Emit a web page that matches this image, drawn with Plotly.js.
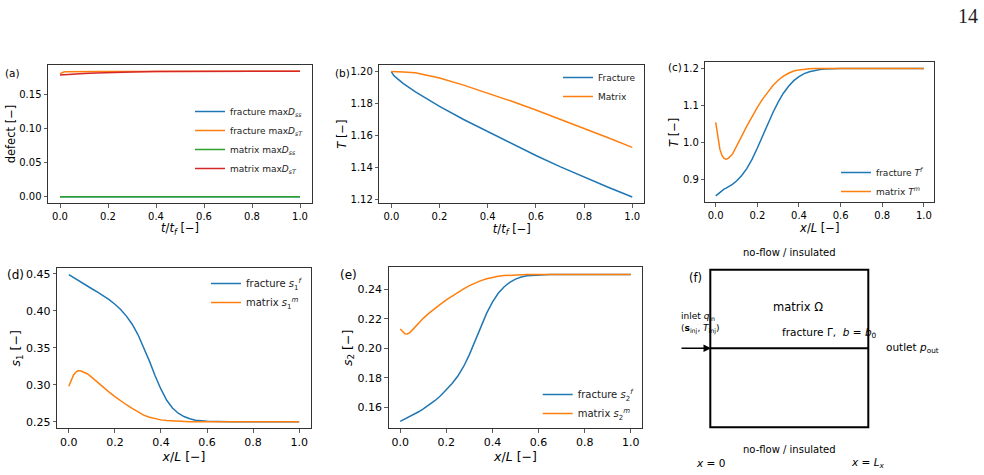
<!DOCTYPE html>
<html>
<head>
<meta charset="utf-8">
<script src="https://cdn.plot.ly/plotly-3.0.1.min.js"></script>
<style>html,body{margin:0;padding:0;background:#fff;}#plot{width:984px;height:475px;}</style>
</head>
<body>
<div id="plot"></div>
<script>
// ---------- data ----------
const tGrid = [0, 0.01, 0.02, 0.05, 0.1, 0.15, 0.2, 0.3, 0.4, 0.5, 0.6, 0.7, 0.8, 0.9, 1.0];
// (a) defects
const fracDss = [0, 0, 0, 0, 0, 0, 0, 0, 0, 0, 0, 0, 0, 0, 0];
const fracDsT = [0.1805, 0.1828, 0.1836, 0.1839, 0.1840, 0.1841, 0.1841, 0.1842, 0.1843, 0.1843, 0.1844, 0.1844, 0.1844, 0.1845, 0.1845];
const matDss  = [0, 0, 0, 0, 0, 0, 0, 0, 0, 0, 0, 0, 0, 0, 0];
const matDsT  = [0.1790, 0.1793, 0.1796, 0.1803, 0.1812, 0.1820, 0.1827, 0.1835, 0.1840, 0.1842, 0.1843, 0.1844, 0.1844, 0.1845, 0.1845];
// (b) mean temperature vs time
const TfracT = [1.2, 1.1975, 1.1962, 1.1925, 1.1873, 1.1826, 1.1782, 1.1700, 1.1624, 1.1548, 1.1475, 1.1405, 1.1339, 1.1276, 1.1215];
const TmatT  = [1.2, 1.2, 1.2, 1.1998, 1.1992, 1.1978, 1.196, 1.1915, 1.1866, 1.1814, 1.176, 1.1703, 1.1645, 1.1586, 1.1526];
// (c)-(e) profiles along x/L
const xGrid = [0, 0.01, 0.02, 0.03, 0.04, 0.05, 0.06, 0.08, 0.1, 0.125, 0.15, 0.175, 0.2, 0.225, 0.25, 0.275, 0.3, 0.325, 0.35, 0.375, 0.4, 0.425, 0.45, 0.475, 0.5, 0.525, 0.55, 0.6, 0.65, 0.7, 0.8, 0.9, 1.0];
const Tf  = [0.856, 0.861, 0.866, 0.870, 0.874, 0.877, 0.880, 0.887, 0.896, 0.911, 0.930, 0.955, 0.985, 1.018, 1.050, 1.081, 1.109, 1.133, 1.152, 1.167, 1.178, 1.186, 1.191, 1.195, 1.197, 1.1985, 1.1993, 1.1998, 1.2, 1.2, 1.2, 1.2, 1.2];
const Tm  = [1.054, 1.010, 0.982, 0.965, 0.957, 0.955, 0.957, 0.968, 0.988, 1.017, 1.045, 1.071, 1.095, 1.117, 1.137, 1.154, 1.168, 1.179, 1.187, 1.193, 1.196, 1.198, 1.199, 1.1995, 1.2, 1.2, 1.2, 1.2, 1.2, 1.2, 1.2, 1.2, 1.2];
const s1f = [0.449, 0.447, 0.445, 0.443, 0.441, 0.439, 0.437, 0.4335, 0.430, 0.4255, 0.4205, 0.4152, 0.409, 0.402, 0.393, 0.382, 0.368, 0.351, 0.332, 0.312, 0.294, 0.279, 0.2685, 0.2615, 0.257, 0.254, 0.252, 0.2505, 0.2501, 0.25, 0.25, 0.25, 0.25];
const s1m = [0.298, 0.307, 0.313, 0.317, 0.319, 0.319, 0.318, 0.315, 0.310, 0.303, 0.2965, 0.290, 0.284, 0.278, 0.273, 0.268, 0.263, 0.259, 0.256, 0.254, 0.2525, 0.2516, 0.251, 0.2506, 0.2503, 0.2501, 0.25, 0.25, 0.25, 0.25, 0.25, 0.25, 0.25];
const s2f = [0.1505, 0.1513, 0.1520, 0.1528, 0.1536, 0.1544, 0.1552, 0.1570, 0.1590, 0.1616, 0.1645, 0.1678, 0.1718, 0.1762, 0.1812, 0.1877, 0.1957, 0.2050, 0.2147, 0.2238, 0.2313, 0.2373, 0.2416, 0.2447, 0.2469, 0.2483, 0.2491, 0.2498, 0.25, 0.25, 0.25, 0.25, 0.25];
const s2m = [0.2131, 0.2112, 0.2098, 0.2097, 0.2105, 0.2120, 0.2137, 0.2171, 0.2203, 0.2238, 0.2271, 0.2300, 0.2328, 0.2355, 0.2380, 0.2403, 0.2425, 0.2443, 0.2459, 0.2471, 0.2481, 0.2488, 0.2493, 0.2496, 0.2498, 0.2499, 0.25, 0.25, 0.25, 0.25, 0.25, 0.25, 0.25];

// ---------- styling helpers ----------
const W = 984, H = 475;
const px = v => v / W, py = v => 1 - v / H;
const BLUE = '#1f77b4', ORANGE = '#ff7f0e', GREEN = '#2ca02c', RED = '#d62728';
const FONT = 'DejaVu Sans, sans-serif';

function axis(dom, range, dtick, fmt, title, fs, tfs, standoff, anchor) {
  return {
    domain: dom, range: range, anchor: anchor, dtick: dtick, tick0: 0, tickformat: fmt,
    showgrid: false, zeroline: false, showline: true, mirror: true, linecolor: '#333', linewidth: 1,
    ticks: 'outside', ticklen: 3.5, tickwidth: 0.8, tickcolor: '#333',
    tickfont: {family: FONT, size: fs, color: '#000'},
    title: {text: title, font: {family: FONT, size: tfs, color: '#000'}, standoff: standoff},
    automargin: false, fixedrange: true
  };
}
function leg(x, ytop, fs) {
  return {x: px(x), y: py(ytop), xanchor: 'left', yanchor: 'top', bgcolor: 'rgba(0,0,0,0)',
          borderwidth: 0, font: {family: FONT, size: fs, color: '#222'}, tracegroupgap: 0};
}
function line(x, y, color, name, xa, ya, lg) {
  return {x: x, y: y, type: 'scatter', mode: 'lines', name: name, xaxis: xa, yaxis: ya, legend: lg,
          line: {color: color, width: 1.5, shape: 'linear'}, hoverinfo: 'skip'};
}

const data = [
  line(tGrid, fracDss, BLUE,   'fracture max<i>D</i><sub><i>ss</i></sub>', 'x', 'y', 'legend'),
  line(tGrid, fracDsT, ORANGE, 'fracture max<i>D</i><sub><i>sT</i></sub>', 'x', 'y', 'legend'),
  line(tGrid, matDss,  GREEN,  'matrix max<i>D</i><sub><i>ss</i></sub>', 'x', 'y', 'legend'),
  line(tGrid, matDsT,  RED,    'matrix max<i>D</i><sub><i>sT</i></sub>', 'x', 'y', 'legend'),
  line(tGrid, TfracT, BLUE,   'Fracture', 'x2', 'y2', 'legend2'),
  line(tGrid, TmatT,  ORANGE, 'Matrix',   'x2', 'y2', 'legend2'),
  line(xGrid, Tf, BLUE,   'fracture <i>T</i><sup><i>f</i></sup>', 'x3', 'y3', 'legend3'),
  line(xGrid, Tm, ORANGE, 'matrix <i>T</i><sup><i>m</i></sup>',   'x3', 'y3', 'legend3'),
  line(xGrid, s1f, BLUE,   'fracture <i>s</i><sub>1</sub><sup><i>f</i></sup>', 'x4', 'y4', 'legend4'),
  line(xGrid, s1m, ORANGE, 'matrix <i>s</i><sub>1</sub><sup><i>m</i></sup>',   'x4', 'y4', 'legend4'),
  line(xGrid, s2f, BLUE,   'fracture <i>s</i><sub>2</sub><sup><i>f</i></sup>', 'x5', 'y5', 'legend5'),
  line(xGrid, s2m, ORANGE, 'matrix <i>s</i><sub>2</sub><sup><i>m</i></sup>',   'x5', 'y5', 'legend5')
];

const xT = '<i>t</i>/<i>t</i><sub><i>f</i></sub> [−]';
const xL = '<i>x</i>/<i>L</i> [−]';
const ann = (x, y, text, size, xanchor, extra) => Object.assign({
  x: px(x), y: py(y), xref: 'paper', yref: 'paper', text: text, showarrow: false,
  xanchor: xanchor || 'center', yanchor: 'middle', font: {family: FONT, size: size, color: '#000'}
}, extra || {});

const layout = {
  width: W, height: H, margin: {l: 0, r: 0, t: 0, b: 0}, paper_bgcolor: '#fff', plot_bgcolor: '#fff',
  showlegend: true,
  xaxis:  axis([px(48), px(312)],   [-0.05, 1.05], 0.2, '.1f', xT, 10, 11.5, 0, 'y'),
  yaxis:  axis([py(203), py(65)],   [-0.0092, 0.1937], 0.05, '.2f', 'defect [−]', 10, 11.5, 1, 'x'),
  xaxis2: axis([px(379.3), px(644.3)], [-0.05, 1.05], 0.2, '.1f', xT, 10, 11.5, 0, 'y2'),
  yaxis2: axis([py(203.3), py(65)],   [1.1176, 1.2041], 0.02, '.2f', '<i>T</i> [−]', 10, 11.5, 1, 'x2'),
  xaxis3: axis([px(705.3), px(934.3)], [-0.05, 1.05], 0.2, '.1f', xL, 10, 11.5, 0, 'y3'),
  yaxis3: axis([py(202.3), py(62.3)], [0.8385, 1.2165], 0.1, '.1f', '<i>T</i> [−]', 10, 11.5, 1, 'x3'),
  xaxis4: axis([px(57.3), px(310.7)], [-0.05, 1.05], 0.2, '.1f', xL, 11, 12.5, 1, 'y4'),
  yaxis4: axis([py(428.3), py(268.3)], [0.2411, 0.4577], 0.05, '.2f', '<i>s</i><sub>1</sub> [−]', 11, 12.5, 2, 'x4'),
  xaxis5: axis([px(388.7), px(642.3)], [-0.05, 1.05], 0.2, '.1f', xL, 11, 12.5, 1, 'y5'),
  yaxis5: axis([py(428.3), py(267.3)], [0.1458, 0.2549], 0.02, '.2f', '<i>s</i><sub>2</sub> [−]', 11, 12.5, 2, 'x5'),
  legend:  leg(190, 97, 9),
  legend2: leg(558, 63, 9),
  legend3: leg(836, 158, 9),
  legend4: leg(206, 269, 10),
  legend5: leg(537.7, 380, 10),
  shapes: [
    {type: 'rect', xref: 'paper', yref: 'paper', x0: px(710.3), x1: px(868.3), y0: py(427.3), y1: py(269.7),
     line: {color: '#000', width: 2}, fillcolor: 'rgba(0,0,0,0)'},
    {type: 'line', xref: 'paper', yref: 'paper', x0: px(710.3), x1: px(868.3), y0: py(348.3), y1: py(348.3),
     line: {color: '#000', width: 2}}
  ],
  annotations: [
    ann(968, 16, '14', 20, 'center', {font: {family: 'Liberation Serif, DejaVu Serif, serif', size: 20, color: '#222'}}),
    ann(12, 72.7, '(a)', 10.5),
    ann(342.7, 72.7, '(b)', 10.5),
    ann(675, 66.7, '(c)', 10.5),
    ann(15, 275, '(d)', 12),
    ann(348.3, 275, '(e)', 12),
    ann(695, 277.7, '(f)', 11.5),
    ann(789, 252.7, 'no-flow / insulated', 10),
    ann(789, 449.3, 'no-flow / insulated', 10),
    ann(710.8, 462.7, '<i>x</i> = 0', 10.5),
    ann(868.3, 462.7, '<i>x</i> = <i>L</i><sub><i>x</i></sub>', 10.5),
    ann(798, 306.7, 'matrix Ω', 11.5),
    ann(679, 316.7, 'inlet <i>q</i><sub>in</sub>', 9, 'left'),
    ann(679, 329.3, '(<b>s</b><sub>inj</sub>, <i>T</i><sub>inj</sub>)', 9, 'left'),
    ann(780, 333.3, 'fracture Γ,  <i>b</i> = <i>b</i><sub>0</sub>', 10.5, 'left'),
    ann(884, 347.7, 'outlet <i>p</i><sub>out</sub>', 10.5, 'left'),
    {x: px(711), y: py(348.3), xref: 'paper', yref: 'paper', ax: -31, ay: 0, axref: 'pixel', ayref: 'pixel',
     text: '', showarrow: true, arrowhead: 2, arrowsize: 1, arrowwidth: 1.5, arrowcolor: '#000'}
  ]
};

Plotly.newPlot('plot', data, layout, {displayModeBar: false, staticPlot: true});
</script>
</body>
</html>
